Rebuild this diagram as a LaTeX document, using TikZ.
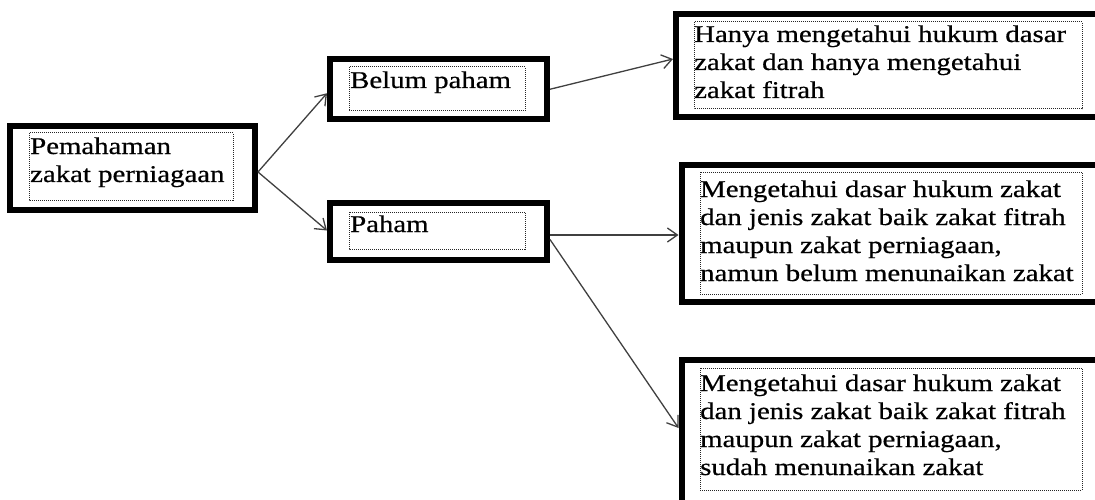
\documentclass[tikz,border=0pt]{standalone}
\usepackage{fontspec}
\setmainfont{Liberation Serif}[FakeStretch=1.2,FakeBold=0.6]
\usetikzlibrary{arrows.meta}
\begin{document}
\begin{tikzpicture}[x=1pt,y=-1pt,
  outerbox/.style={draw=black,line width=6pt,inner sep=0pt,fill=white},
  dotbox/.style={draw=black!85,line width=1pt,dash pattern=on 1pt off 1pt},
  label/.style={anchor=base west,inner sep=0pt,font=\fontsize{24}{28}\selectfont},
  conn/.style={draw=black!75,line width=1.3pt,-{Straight Barb[length=10pt,width=14pt,line width=1.3pt]}}
]
\useasboundingbox (0,0) rectangle (1095,500);
\clip (0,0) rectangle (1095,500);
% outer boxes
\node[outerbox,minimum width=245pt,minimum height=84pt] (A) at (132.5,168) {};
\node[outerbox,minimum width=217pt,minimum height=60.5pt] (B) at (438.5,89.25) {};
\node[outerbox,minimum width=217pt,minimum height=57pt] (C) at (438.5,231.5) {};
\node[outerbox,minimum width=439pt,minimum height=103pt] (D) at (895.5,66) {};
\node[outerbox,minimum width=433.5pt,minimum height=136.5pt] (E) at (898.25,233.25) {};
\node[outerbox,minimum width=433.5pt,minimum height=160pt] (F) at (898.25,440) {};
% dotted inner frames
\draw[dotbox] (29,133) rectangle (233,200);
\draw[dotbox] (349,67) rectangle (525,111);
\draw[dotbox] (349,212) rectangle (525,249);
\draw[dotbox] (694,22) rectangle (1082,109);
\draw[dotbox] (700,172) rectangle (1082,294);
\draw[dotbox] (700,368) rectangle (1082,490);
% texts
\node[label] (tA) at (30,154) {\begin{tabular}[t]{@{}l@{}}Pemahaman\\zakat perniagaan\end{tabular}};
\node[label] (tB) at (350,88) {\begin{tabular}[t]{@{}l@{}}Belum paham\end{tabular}};
\node[label] (tC) at (350,232) {\begin{tabular}[t]{@{}l@{}}Paham\end{tabular}};
\node[label] (tD) at (694,42) {\begin{tabular}[t]{@{}l@{}}Hanya mengetahui hukum dasar\\zakat dan hanya mengetahui\\zakat fitrah\end{tabular}};
\node[label] (tE) at (700,197) {\begin{tabular}[t]{@{}l@{}}Mengetahui dasar hukum zakat\\dan jenis zakat baik zakat fitrah\\maupun zakat perniagaan,\\namun belum menunaikan zakat\end{tabular}};
\node[label] (tF) at (700,391) {\begin{tabular}[t]{@{}l@{}}Mengetahui dasar hukum zakat\\dan jenis zakat baik zakat fitrah\\maupun zakat perniagaan,\\sudah menunaikan zakat\end{tabular}};
% connectors
\draw[conn] ([yshift=-4pt]A.east) -- ([yshift=-4pt]B.west);
\draw[conn] ([yshift=-4pt]A.east) -- ([yshift=1pt]C.west);
\draw[conn] (B.east) -- ([yshift=7pt]D.west);
\draw[conn] ([yshift=-3.5pt]C.east) -- ([yshift=-1.75pt]E.west);
\draw[conn] ([yshift=-8pt]C.east) -- ([yshift=-71pt]F.north west);
\end{tikzpicture}
\end{document}
